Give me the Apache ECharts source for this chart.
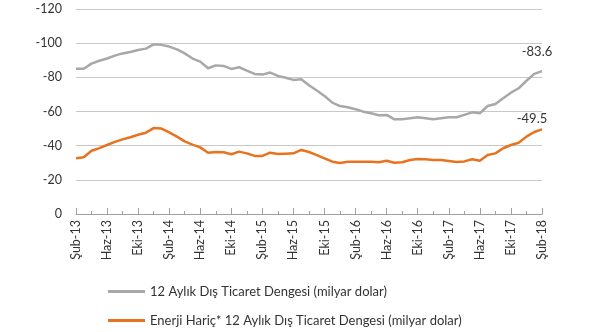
<!DOCTYPE html>
<html><head><meta charset="utf-8">
<script src="https://cdn.jsdelivr.net/npm/echarts@6/dist/echarts.min.js"></script>
<style>html,body{margin:0;padding:0;background:#fff}#c{width:590px;height:332px}</style>
</head><body><div id="c"></div>
<script>
const months = ['Oca','Şub','Mar','Nis','May','Haz','Tem','Ağu','Eyl','Eki','Kas','Ara'];
const categories = [];
for (let y = 13; y <= 18; y++) { for (let m = 0; m < 12; m++) { if ((y === 13 && m < 1) || (y === 18 && m > 1)) continue; categories.push(months[m] + '-' + y); } }
const seriesNames = ['12 Aylık Dış Ticaret Dengesi (milyar dolar)', 'Enerji Hariç* 12 Aylık Dış Ticaret Dengesi (milyar dolar)'];
const totalBalance = [-85,-85,-88,-89.7,-91,-92.7,-94,-94.8,-96,-96.8,-99.3,-99,-98,-96.4,-94,-91,-89.2,-85.3,-87,-86.7,-84.9,-85.9,-83.9,-82,-81.6,-82.8,-80.8,-79.8,-78.5,-78.9,-75.4,-72.3,-69.1,-65.2,-63.2,-62.5,-61.3,-59.9,-59,-57.8,-58,-55.4,-55.4,-56,-56.6,-56,-55.4,-56,-56.6,-56.6,-58,-59.5,-59,-63.2,-64.4,-67.7,-71,-73.6,-78,-82,-83.6];
const exEnergyBalance = [-32.6,-33.2,-37,-38.6,-40.4,-42.2,-43.7,-44.9,-46.4,-47.6,-50.3,-50,-47.8,-45.3,-42.5,-40.6,-39,-35.9,-36.3,-36.1,-35,-36.5,-35.5,-34,-34,-35.9,-35.1,-35.3,-35.5,-37.5,-36.3,-34.5,-32.6,-30.6,-29.9,-30.6,-30.6,-30.6,-30.6,-30.3,-31.2,-30,-30.3,-31.6,-32.2,-32,-31.6,-31.6,-31,-30.4,-30.8,-32,-31.2,-34.5,-35.5,-38.5,-40.4,-41.7,-45.3,-48,-49.5];
const yTicks = {min: -120, max: 0, interval: 20};
const FONT = 'Lato';
function endMark(arr, off) {
  const i = arr.length - 1;
  return {
    symbol: 'circle', symbolSize: 0, silent: true,
    label: {show: true, position: 'top', distance: 0, offset: off, formatter: '{c}', color: '#333', fontSize: 13, fontFamily: FONT},
    data: [{coord: [categories[i], arr[i]], value: arr[i]}]
  };
}
function legendFor(name, top) {
  return {
    orient: 'horizontal', left: 103, top: top,
    itemWidth: 37, itemHeight: 3, icon: 'rect', itemGap: 4,
    textStyle: {color: '#333', fontSize: 13, fontFamily: FONT},
    data: [name]
  };
}
const chart = echarts.init(document.getElementById('c'), null, {renderer: 'canvas'});
chart.setOption({
  animation: false,
  textStyle: {fontFamily: FONT},
  grid: {left: 76, right: 48, top: 9, bottom: 118, containLabel: false},
  legend: [legendFor(seriesNames[0], 280), legendFor(seriesNames[1], 309)],
  xAxis: [{
    type: 'category', data: categories, boundaryGap: false,
    axisLine: {lineStyle: {color: '#a0a0a0', width: 1}},
    axisTick: {show: true, inside: true, interval: 3, length: 6, lineStyle: {color: '#a0a0a0'}},
    axisLabel: {interval: 3, rotate: 90, color: '#333', fontSize: 12.5, fontFamily: FONT, margin: 6},
    splitLine: {show: false}
  }, {
    type: 'category', data: categories, boundaryGap: false, position: 'bottom',
    axisLine: {show: false},
    axisTick: {show: true, inside: true, interval: 1, length: 3, lineStyle: {color: '#a0a0a0'}},
    axisLabel: {show: false}, splitLine: {show: false}
  }],
  yAxis: {
    type: 'value', inverse: true, min: yTicks.min, max: yTicks.max, interval: yTicks.interval,
    axisLine: {show: false}, axisTick: {show: false},
    axisLabel: {color: '#333', fontSize: 12.5, fontFamily: FONT, margin: 14},
    splitLine: {lineStyle: {color: '#c8c8c8', width: 1}}
  },
  series: [{
    name: seriesNames[0], type: 'line', data: totalBalance,
    showSymbol: false, symbol: 'none', smooth: false,
    lineStyle: {color: '#a8a8a8', width: 2.5}, itemStyle: {color: '#a8a8a8'},
    markPoint: endMark(totalBalance, [-5, -13])
  }, {
    name: seriesNames[1], type: 'line', data: exEnergyBalance,
    showSymbol: false, symbol: 'none', smooth: false,
    lineStyle: {color: '#e8731e', width: 2.5}, itemStyle: {color: '#e8731e'},
    markPoint: endMark(exEnergyBalance, [-10, -4])
  }]
});
</script></body></html>
